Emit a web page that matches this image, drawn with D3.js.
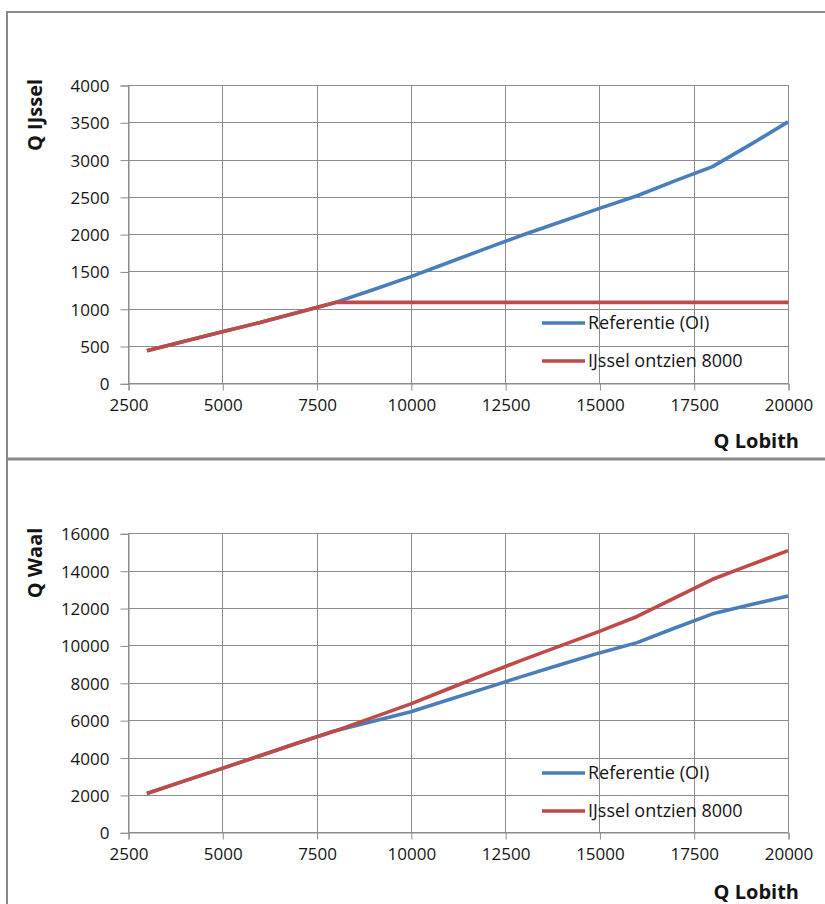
<!DOCTYPE html>
<html>
<head>
<meta charset="utf-8">
<script src="https://cdn.jsdelivr.net/npm/d3@7"></script>
<style>
  html, body { margin: 0; padding: 0; background: #fff; }
  svg { display: block; }
  text { font-family: "Open Sans", "Liberation Sans", sans-serif; fill: #141414; }
</style>
</head>
<body>
<script>
// ---- data ----
const lobith = [3000,4000,5000,6000,7000,8000,9000,10000,11000,12000,13000,14000,15000,16000,17000,18000,19000,20000];
const ijsselReferentie = [437,565,692,815,950,1085,1255,1430,1620,1810,1995,2170,2345,2515,2715,2905,3200,3505];
const ijsselOntzien8000 = [437,565,692,815,950,1085,1085,1085,1085,1085,1085,1085,1085,1085,1085,1085,1085,1085];
const waalReferentie = [2080,2750,3420,4100,4780,5430,5940,6450,7090,7730,8370,8990,9600,10150,10930,11690,12170,12640];
const waalOntzien8000 = [2080,2750,3420,4100,4780,5430,6150,6870,7680,8480,9250,10000,10750,11550,12550,13540,14310,15070];
const seriesNames = ["Referentie (OI)", "IJssel ontzien 8000"];
const seriesColors = ["#4a7ebb", "#be4b48"];
const xTicks = [2500,5000,7500,10000,12500,15000,17500,20000];
const yTicksIjssel = [0,500,1000,1500,2000,2500,3000,3500,4000];
const yTicksWaal = [0,2000,4000,6000,8000,10000,12000,14000,16000];
const xTitle = "Q Lobith";
const yTitles = ["Q IJssel", "Q Waal"];

// ---- drawing ----
const W = 825, H = 904;
const svg = d3.select("body").append("svg").attr("width", W).attr("height", H);

// frame lines
const frameColor = "#8a8a8a";
svg.append("line").attr("x1", 7).attr("x2", W).attr("y1", 12).attr("y2", 12).attr("stroke", frameColor).attr("stroke-width", 2);
svg.append("line").attr("x1", 7).attr("x2", 7).attr("y1", 11).attr("y2", H).attr("stroke", frameColor).attr("stroke-width", 2);
svg.append("line").attr("x1", 6).attr("x2", W).attr("y1", 459).attr("y2", 459).attr("stroke", frameColor).attr("stroke-width", 3);

const gridColor = "#8c8c8c";

function drawPanel(cfg) {
  const x = d3.scaleLinear().domain([2500, 20000]).range([128, 788]);
  const y = d3.scaleLinear().domain([0, cfg.yMax]).range([cfg.yBottom, cfg.yTop]);
  const g = svg.append("g");

  // grid
  g.selectAll(".hg").data(cfg.yTicks).enter().append("line")
    .attr("x1", 128).attr("x2", 788)
    .attr("y1", d => Math.round(y(d)) + 0.5).attr("y2", d => Math.round(y(d)) + 0.5)
    .attr("stroke", gridColor).attr("stroke-width", 1);
  g.selectAll(".vg").data(xTicks).enter().append("line")
    .attr("x1", d => Math.round(x(d)) + 0.5).attr("x2", d => Math.round(x(d)) + 0.5)
    .attr("y1", cfg.yTop).attr("y2", cfg.yBottom)
    .attr("stroke", gridColor).attr("stroke-width", 1);

  // axes
  const yAxis = d3.axisLeft(y).tickValues(cfg.yTicks).tickSize(8).tickPadding(11).tickFormat(d3.format("d"));
  const ya = g.append("g").attr("transform", "translate(128.5,0.5)").call(yAxis);
  ya.select(".domain").attr("stroke", gridColor);
  ya.selectAll(".tick line").attr("stroke", gridColor);
  ya.selectAll(".tick text").style("font-size", "17px").attr("fill", "#141414").attr("dy", "0.35em");

  const xAxis = d3.axisBottom(x).tickValues(xTicks).tickSize(7).tickPadding(8).tickFormat(d3.format("d"));
  const xa = g.append("g").attr("transform", `translate(0.5,${Math.round(cfg.yBottom) + 0.5})`).call(xAxis);
  xa.select(".domain").attr("stroke", gridColor);
  xa.selectAll(".tick line").attr("stroke", gridColor);
  xa.selectAll(".tick text").style("font-size", "17px").attr("fill", "#141414");

  // lines
  const line = d3.line().x((d, i) => x(lobith[i])).y(d => y(d));
  cfg.series.forEach((s, k) => {
    g.append("path").datum(s).attr("d", line)
      .attr("fill", "none").attr("stroke", seriesColors[k])
      .attr("stroke-width", 3.6).attr("stroke-linejoin", "round").attr("stroke-linecap", "butt");
  });

  // legend
  seriesNames.forEach((n, k) => {
    const ly = cfg.legendY[k];
    g.append("line").attr("x1", 542).attr("x2", 585).attr("y1", ly).attr("y2", ly)
      .attr("stroke", seriesColors[k]).attr("stroke-width", 3.6);
    g.append("text").attr("x", 588).attr("y", ly).attr("dy", "0.35em")
      .style("font-size", "18px").text(n);
  });

  // titles
  g.append("text").attr("x", 799).attr("y", cfg.xTitleY).attr("text-anchor", "end")
    .style("font-size", "20px").style("font-weight", "bold").text(xTitle);
  g.append("text").attr("transform", `translate(42,${cfg.yTitleY}) rotate(-90)`)
    .attr("text-anchor", "middle")
    .style("font-size", "20px").style("font-weight", "bold").text(cfg.yTitle);
}

drawPanel({
  yMax: 4000, yTop: 85, yBottom: 383.3, yTicks: yTicksIjssel,
  series: [ijsselReferentie, ijsselOntzien8000],
  legendY: [323, 361], xTitleY: 448, yTitleY: 115, yTitle: yTitles[0]
});
drawPanel({
  yMax: 16000, yTop: 533.3, yBottom: 832.3, yTicks: yTicksWaal,
  series: [waalReferentie, waalOntzien8000],
  legendY: [773, 811], xTitleY: 899, yTitleY: 563, yTitle: yTitles[1]
});
</script>
</body>
</html>
